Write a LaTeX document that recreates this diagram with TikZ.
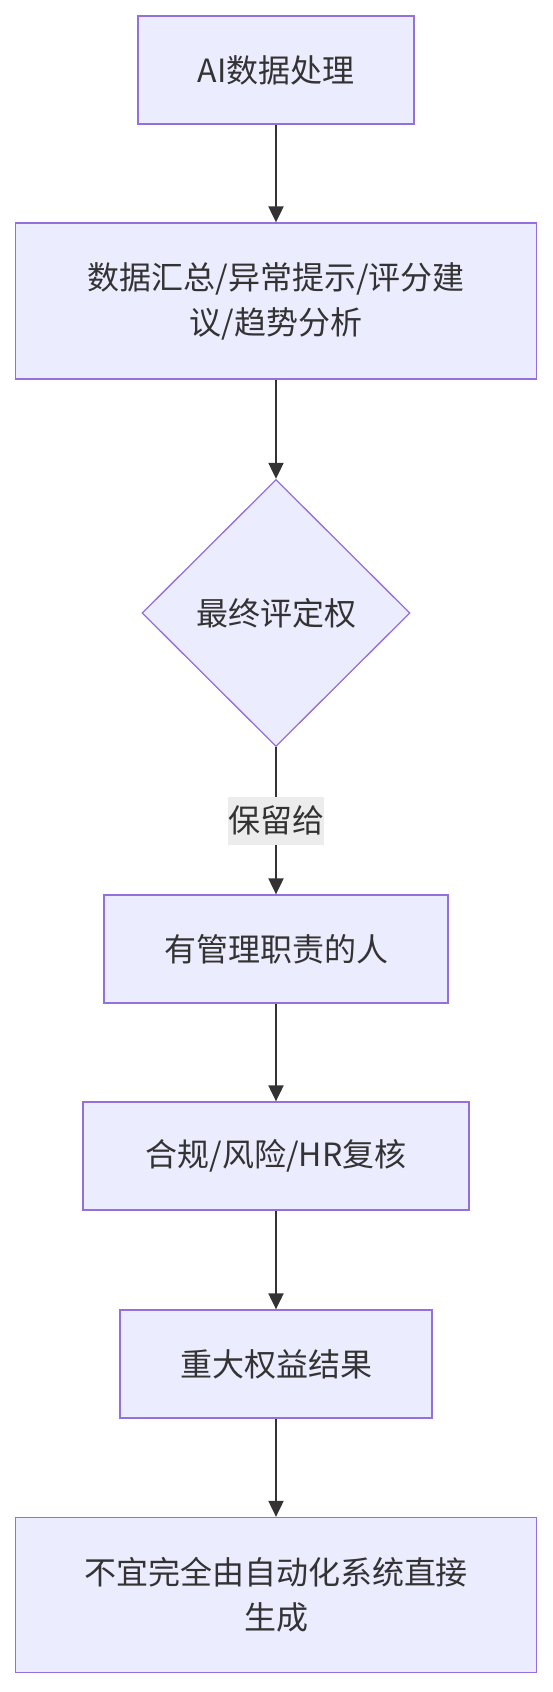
\documentclass[tikz,border=0pt]{standalone}
\usepackage{fontspec}
\setmainfont{Noto Sans CJK SC}
\usetikzlibrary{positioning, shapes.geometric, arrows.meta}

\definecolor{boxfill}{HTML}{ECECFF}
\definecolor{boxline}{HTML}{9370DB}
\definecolor{inkgray}{HTML}{333333}
\definecolor{labelgray}{HTML}{ECECEC}

\begin{document}
\begin{tikzpicture}[
    x=1pt, y=-1pt,
    stepbox/.style={rectangle, draw=boxline, fill=boxfill, line width=1.3pt,
        text=inkgray, font=\fontsize{32}{45}\selectfont, align=center,
        inner sep=0pt},
    decide/.style={diamond, draw=boxline, fill=boxfill, line width=1.3pt,
        text=inkgray, font=\fontsize{32}{45}\selectfont, inner sep=0pt,
        minimum width=268pt, minimum height=267pt},
    tag/.style={fill=labelgray, text=inkgray, font=\fontsize{32}{45}\selectfont,
        inner sep=0pt, minimum width=96pt, minimum height=48pt},
    flow/.style={line width=2pt, inkgray, -{Triangle[length=16pt, width=15pt]}}
]
    \useasboundingbox (0,0) rectangle (552,1692);

    % --- Top: AI step
    \node[stepbox, minimum width=276pt, minimum height=108pt] (ai) at (276, 70) {AI数据处理};

    % --- AI output
    \node[stepbox, minimum width=521pt, minimum height=156pt] (summary) at (276, 301)
        {数据汇总/异常提示/评分建\\议/趋势分析};

    % --- Decision
    \node[decide] (final) at (276, 613) {最终评定权};

    % --- Human side
    \node[stepbox, minimum width=344pt, minimum height=108pt] (manager) at (276, 949) {有管理职责的人};
    \node[stepbox, minimum width=386pt, minimum height=108pt] (review) at (276, 1156) {合规/风险/HR复核};
    \node[stepbox, minimum width=312pt, minimum height=108pt] (rights) at (276, 1364) {重大权益结果};

    % --- Bottom note
    \node[stepbox, minimum width=521pt, minimum height=155pt] (nogen) at (276, 1595)
        {不宜完全由自动化系统直接\\生成};

    \draw[flow] (ai) -- (summary);
    \draw[flow] (summary) -- (final);
    \draw[flow] (final) -- node[tag] (keep) {保留给} (manager);
    \draw[flow] (manager) -- (review);
    \draw[flow] (review) -- (rights);
    \draw[flow] (rights) -- (nogen);

\end{tikzpicture}
\end{document}
